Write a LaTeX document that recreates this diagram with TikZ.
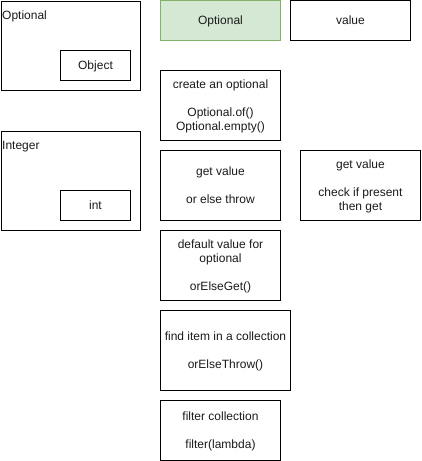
\documentclass[tikz,border=0pt]{standalone}
\usepackage{fontspec}
\setmainfont{Liberation Sans}
\definecolor{gfill}{HTML}{D5E8D4}
\definecolor{gline}{HTML}{82B366}
\definecolor{txt}{HTML}{1A1A1A}
\begin{document}
\begin{tikzpicture}[x=1pt,y=-1pt,
  box/.style={draw=black,line width=1pt,inner sep=0pt,align=center,text depth=0pt,
    font=\fontsize{12}{14}\selectfont,text=txt},
  lbl/.style={inner sep=0pt,anchor=west,text depth=0pt,font=\fontsize{12}{14}\selectfont,text=txt}]
\useasboundingbox (0,0) rectangle (421,461);
% containers
\node[box,minimum width=139pt,minimum height=89pt] (optc) at (70.5,45.5) {};
\node[lbl] (optl) at (2,15) {Optional};
\node[box,minimum width=70pt,minimum height=30pt] (obj) at (95.5,65.5) {Object};
\node[box,minimum width=139pt,minimum height=99pt] (intc) at (70.5,180.5) {};
\node[lbl] (intl) at (2,145) {Integer};
\node[box,minimum width=70pt,minimum height=30pt] (int) at (95.5,205.5) {int};
% top row
\node[box,draw=gline,fill=gfill,minimum width=120pt,minimum height=40pt] (opt) at (220.5,20.5) {Optional};
\node[box,minimum width=120pt,minimum height=40pt] (val) at (350.5,20.5) {value};
% column
\node[box,minimum width=120pt,minimum height=70pt] (create) at (220.5,105.5)
  {create an optional\\[14pt]Optional.of()\\Optional.empty()};
\node[box,minimum width=120pt,minimum height=70pt] (get) at (220.5,185.5)
  {get value\\[14pt]or else throw};
\node[box,minimum width=120pt,minimum height=70pt] (check) at (360.5,185.5)
  {get value\\[14pt]check if present\\then get};
\node[box,minimum width=120pt,minimum height=70pt] (def) at (220.5,265.5)
  {default value for\\optional\\[14pt]orElseGet()};
\node[box,minimum width=130pt,minimum height=80pt] (find) at (225.5,350.5)
  {find item in a collection\\[14pt]orElseThrow()};
\node[box,minimum width=120pt,minimum height=60pt] (filt) at (220.5,430.5)
  {filter collection\\[14pt]filter(lambda)};
\end{tikzpicture}
\end{document}
